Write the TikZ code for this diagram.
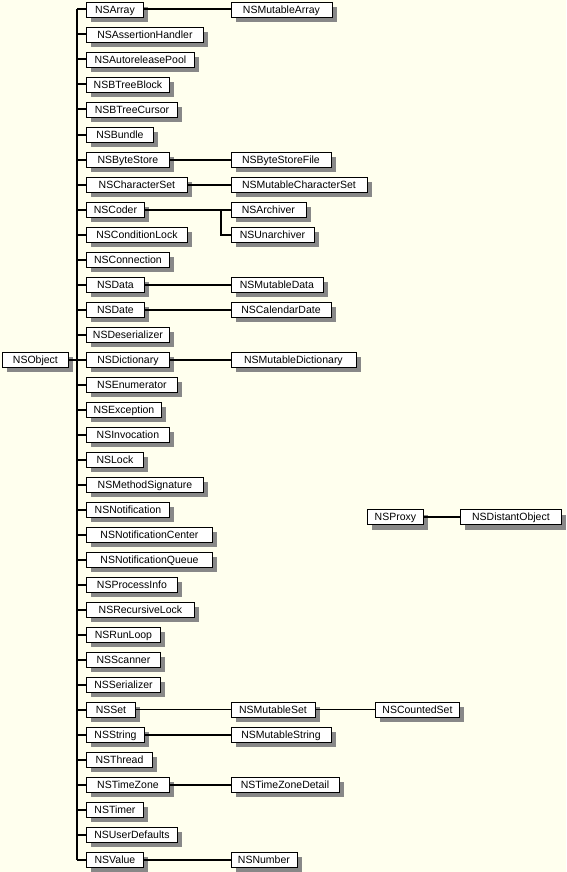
\documentclass[tikz,border=0pt]{standalone}
\usepackage{fontspec}
\setmainfont{Liberation Sans}
\usetikzlibrary{shadows}
\definecolor{bgcream}{RGB}{255,255,238}
\definecolor{shadowgray}{RGB}{136,136,136}
\tikzset{
  cls/.style={draw=black, line width=0.9pt, fill=white, inner sep=0pt,
    minimum height=15pt, anchor=west, text height=7.4pt, text depth=0pt,
    font=\fontsize{10.5}{12}\selectfont,
    drop shadow={shadow xshift=5pt, shadow yshift=-5pt, fill=shadowgray, opacity=1}},
  conn/.style={draw=black, line width=2pt},
  thinconn/.style={draw=black, line width=1pt},
}
\newcommand\lrow[4]{\node[cls, minimum width=#3pt] (#1) at (86,{9.5+25*#2}) {#4};}
\newcommand\rrow[4]{\node[cls, minimum width=#3pt] (#1) at (230.5,{9.5+25*#2}) {#4};}
\begin{document}
\begin{tikzpicture}[x=1pt,y=-1pt]
\fill[bgcream] (0,0) rectangle (566,872);
\useasboundingbox (0,0) rectangle (566,872);
\coordinate (tx) at (77,0);
\coordinate (cx) at (221,0);
% left column
\lrow{arr}{0}{57}{NSArray}
\lrow{ash}{1}{117}{NSAssertionHandler}
\lrow{arp}{2}{108}{NSAutoreleasePool}
\lrow{btb}{3}{83}{NSBTreeBlock}
\lrow{btc}{4}{91}{NSBTreeCursor}
\lrow{bun}{5}{67}{NSBundle}
\lrow{bys}{6}{83}{NSByteStore}
\lrow{chs}{7}{101}{NSCharacterSet}
\lrow{cod}{8}{58}{NSCoder}
\lrow{cdl}{9}{101}{NSConditionLock}
\lrow{con}{10}{83}{NSConnection}
\lrow{dat}{11}{58}{NSData}
\lrow{dte}{12}{58}{NSDate}
\lrow{des}{13}{83}{NSDeserializer}
\lrow{dic}{14}{83}{NSDictionary}
\lrow{enu}{15}{91}{NSEnumerator}
\lrow{exc}{16}{75}{NSException}
\lrow{inv}{17}{83}{NSInvocation}
\lrow{lck}{18}{57}{NSLock}
\lrow{mts}{19}{117}{NSMethodSignature}
\lrow{ntf}{20}{83}{NSNotification}
\lrow{ntc}{21}{126}{NSNotificationCenter}
\lrow{ntq}{22}{126}{NSNotificationQueue}
\lrow{pri}{23}{91}{NSProcessInfo}
\lrow{rcl}{24}{108}{NSRecursiveLock}
\lrow{rlp}{25}{74}{NSRunLoop}
\lrow{scn}{26}{74}{NSScanner}
\lrow{ser}{27}{74}{NSSerializer}
\lrow{set}{28}{49}{NSSet}
\lrow{str}{29}{58}{NSString}
\lrow{thr}{30}{66}{NSThread}
\lrow{tmz}{31}{83}{NSTimeZone}
\lrow{tmr}{32}{57}{NSTimer}
\lrow{usd}{33}{91}{NSUserDefaults}
\lrow{val}{34}{57}{NSValue}
% right column
\rrow{marr}{0}{101}{NSMutableArray}
\rrow{bsf}{6}{100}{NSByteStoreFile}
\rrow{mcs}{7}{136}{NSMutableCharacterSet}
\rrow{arc}{8}{75}{NSArchiver}
\rrow{unarc}{9}{83}{NSUnarchiver}
\rrow{mdat}{11}{92}{NSMutableData}
\rrow{cald}{12}{100}{NSCalendarDate}
\rrow{mdic}{14}{125}{NSMutableDictionary}
\rrow{mset}{28}{84}{NSMutableSet}
\node[cls, minimum width=84pt] (cset) at (375,{9.5+25*28}) {NSCountedSet};
\rrow{mstr}{29}{100}{NSMutableString}
\rrow{tzd}{31}{108}{NSTimeZoneDetail}
\rrow{num}{34}{66}{NSNumber}
% root and proxy
\node[cls, minimum width=66pt] (obj) at (2,359.5) {NSObject};
\node[cls, minimum width=56pt] (prx) at (367,517) {NSProxy};
\node[cls, minimum width=101pt] (dob) at (460,517) {NSDistantObject};
% trunk
\draw[conn] (arr.west -| tx) -- (val.west -| tx);
\draw[conn] (obj.east) -- (obj.east -| tx);
\foreach \n in {arr,ash,arp,btb,btc,bun,bys,chs,cod,cdl,con,dat,dte,des,dic,enu,exc,inv,lck,mts,ntf,ntc,ntq,pri,rcl,rlp,scn,ser,set,str,thr,tmz,tmr,usd,val}
  \draw[conn] (\n.west -| tx) -- (\n.west);
% subclasses
\draw[conn] (arr.east) -- (marr.west);
\draw[conn] (bys.east) -- (bsf.west);
\draw[conn] (chs.east) -- (mcs.west);
\draw[conn] (cod.east) -- (arc.west);
\draw[conn] (cod.east -| cx) -- (unarc.west -| cx) -- (unarc.west);
\draw[conn] (dat.east) -- (mdat.west);
\draw[conn] (dte.east) -- (cald.west);
\draw[conn] (dic.east) -- (mdic.west);
\draw[thinconn] (set.east) -- (mset.west);
\draw[thinconn] (mset.east) -- (cset.west);
\draw[conn] (str.east) -- (mstr.west);
\draw[conn] (tmz.east) -- (tzd.west);
\draw[conn] (val.east) -- (num.west);
\draw[conn] (prx.east) -- (dob.west);
\end{tikzpicture}
\end{document}
